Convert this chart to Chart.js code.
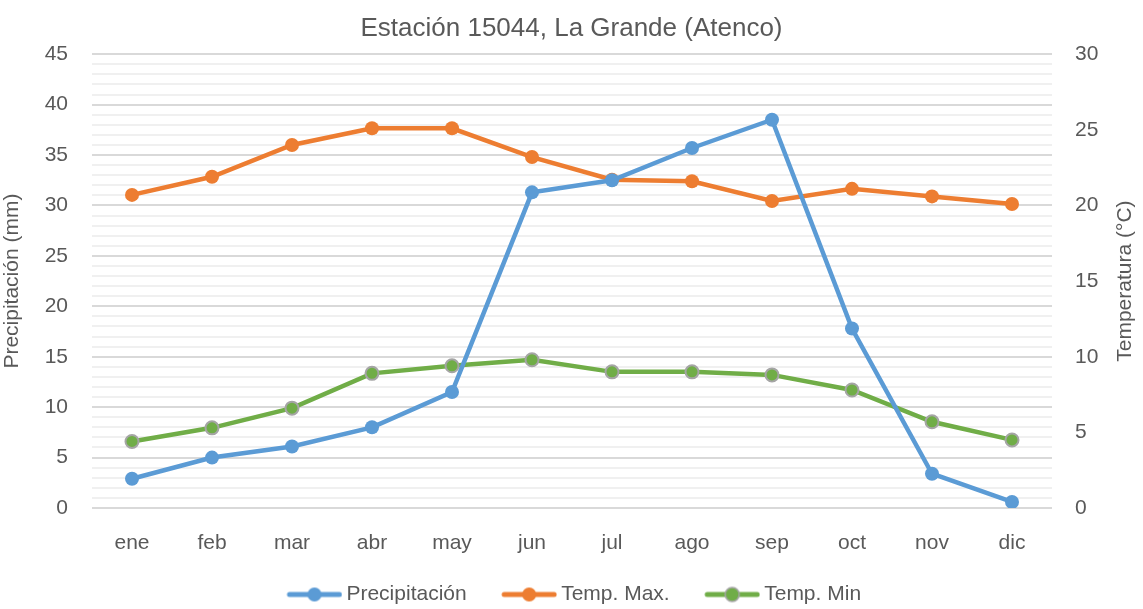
<!DOCTYPE html>
<html lang="es">
<head>
  <meta charset="UTF-8">
  <title>Estación 15044, La Grande (Atenco)</title>
  <script src="https://cdn.jsdelivr.net/npm/chart.js"></script>
  <style>
    html, body { margin: 0; padding: 0; background: #fff; }
    #wrap { width: 1143px; height: 609px; }
  </style>
</head>
<body>
  <div id="wrap"><canvas id="chart"></canvas></div>
  <script>
    const months = ['ene', 'feb', 'mar', 'abr', 'may', 'jun', 'jul', 'ago', 'sep', 'oct', 'nov', 'dic'];
    const precipitacion = [2.9, 5.0, 6.1, 8.0, 11.5, 31.3, 32.5, 35.7, 38.5, 17.8, 3.4, 0.6];
    const tempMax = [20.7, 21.9, 24.0, 25.1, 25.1, 23.2, 21.7, 21.6, 20.3, 21.1, 20.6, 20.1];
    const tempMin = [4.4, 5.3, 6.6, 8.9, 9.4, 9.8, 9.0, 9.0, 8.8, 7.8, 5.7, 4.5];

    const FONT = "'Liberation Sans', Arial, sans-serif";
    const TXT = '#595959';
    const BOX_W = 84;           // legend box width
    const IMG_W = BOX_W + 13;   // marker image, centred on the box

    // legend marker: short line with a dot, sitting at the right end of the image
    function legendMarker(color, border) {
      const c = document.createElement('canvas');
      c.width = IMG_W; c.height = 18;
      const g = c.getContext('2d');
      const x0 = IMG_W - 56, x1 = IMG_W, mid = (x0 + x1) / 2;
      g.strokeStyle = color; g.lineWidth = 5; g.lineCap = 'round';
      g.beginPath(); g.moveTo(x0 + 3, 9); g.lineTo(x1 - 3, 9); g.stroke();
      g.fillStyle = color;
      g.beginPath(); g.arc(mid, 9, 7, 0, Math.PI * 2); g.fill();
      if (border) { g.strokeStyle = border; g.lineWidth = 1.5; g.stroke(); }
      return c;
    }

    const tweaks = {
      id: 'tweaks',
      // the blank lead-in of the first marker pushes the legend right, pull it back
      afterLayout(chart) {
        chart.legend.left -= 15;
        chart.legend.right -= 15;
      },
      // right axis title reads bottom-to-top like the left one
      afterDraw(chart) {
        const ctx = chart.ctx, a = chart.chartArea;
        ctx.save();
        ctx.translate(1125, (a.top + a.bottom) / 2);
        ctx.rotate(-Math.PI / 2);
        ctx.fillStyle = TXT;
        ctx.font = '21px ' + FONT;
        ctx.textAlign = 'center';
        ctx.textBaseline = 'middle';
        ctx.fillText('Temperatura (°C)', 0, 0);
        ctx.restore();
      }
    };

    new Chart(document.getElementById('chart'), {
      type: 'line',
      data: {
        labels: months,
        datasets: [
          { label: 'Precipitación', data: precipitacion, yAxisID: 'y', borderColor: '#5b9bd5', backgroundColor: '#5b9bd5',
            borderWidth: 4.5, pointRadius: 7, pointBorderWidth: 0, tension: 0, order: 1 },
          { label: 'Temp. Max.', data: tempMax, yAxisID: 'y2', borderColor: '#ed7d31', backgroundColor: '#ed7d31',
            borderWidth: 4.5, pointRadius: 7, pointBorderWidth: 0, tension: 0, order: 2 },
          { label: 'Temp. Min', data: tempMin, yAxisID: 'y2', borderColor: '#70ad47', backgroundColor: '#70ad47',
            pointBorderColor: '#a5a5a5', borderWidth: 4.5, pointRadius: 6.5, pointBorderWidth: 2, tension: 0, order: 3 }
        ]
      },
      plugins: [tweaks],
      options: {
        responsive: true,
        maintainAspectRatio: false,
        animation: false,
        layout: { padding: { left: 0, right: 0, top: 0, bottom: -6 } },
        plugins: {
          title: { display: true, text: 'Estación 15044, La Grande (Atenco)', color: TXT,
            font: { family: FONT, size: 26, weight: 'normal' }, padding: { top: 13, bottom: 10 } },
          legend: {
            position: 'bottom',
            labels: {
              color: TXT, font: { family: FONT, size: 21 }, usePointStyle: true, pointStyleWidth: BOX_W,
              padding: 0,
              generateLabels(chart) {
                return chart.data.datasets.map((ds, i) => ({
                  text: ds.label, datasetIndex: i, fontColor: TXT,
                  pointStyle: legendMarker(ds.borderColor, i === 2 ? '#a5a5a5' : null),
                  hidden: false, lineWidth: 0
                }));
              }
            }
          },
          tooltip: { enabled: false }
        },
        scales: {
          x: {
            offset: true,
            afterFit(s) { s.height = 76; },
            grid: { display: false },
            border: { display: false },
            ticks: { color: TXT, font: { family: FONT, size: 21 }, padding: 15 }
          },
          y: {
            position: 'left', min: 0, max: 45,
            afterFit(s) { s.width = 92; },
            ticks: { stepSize: 1, autoSkip: false, color: TXT, font: { family: FONT, size: 21 }, padding: 24,
              callback: v => (v % 5 === 0 ? v : '') },
            grid: { color: ctx => (ctx.tick.value % 5 === 0 ? '#d9d9d9' : '#f0f0f0'), lineWidth: 2, drawTicks: false },
            border: { display: false },
            title: { display: true, text: 'Precipitación (mm)', color: TXT, font: { family: FONT, size: 21 }, padding: 0 }
          },
          y2: {
            position: 'right', min: 0, max: 30,
            afterFit(s) { s.width = 91; },
            ticks: { stepSize: 5, color: TXT, font: { family: FONT, size: 21 }, padding: 23 },
            grid: { display: false, drawTicks: false },
            border: { display: false }
          }
        }
      }
    });
  </script>
</body>
</html>
